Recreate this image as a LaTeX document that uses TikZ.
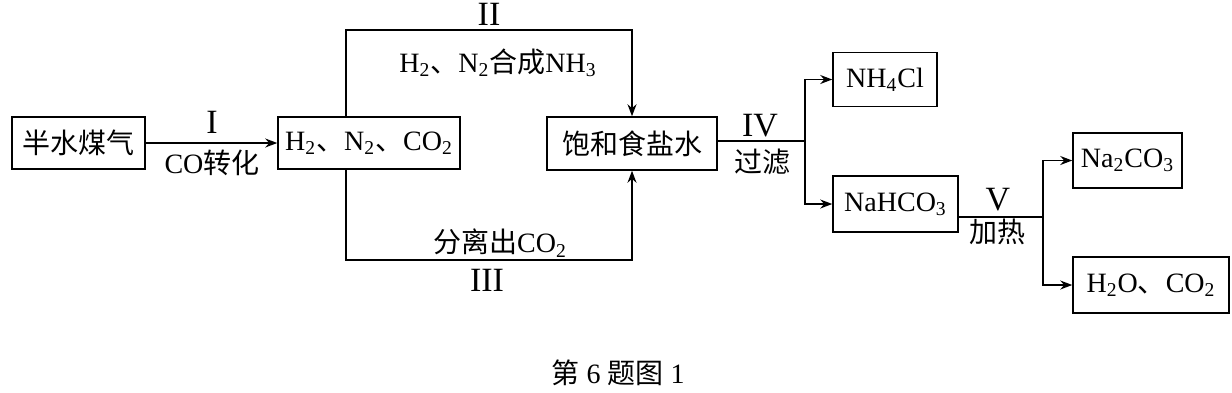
\documentclass[tikz,border=0pt]{standalone}
\usepackage{fontspec}
\setmainfont{Liberation Serif}
\newfontfamily\cjk{Noto Sans CJK SC}
\usetikzlibrary{arrows.meta}

\newcommand{\dun}{{\cjk 、}}
\newcommand{\ssub}[1]{\textsubscript{#1}}

\begin{document}
\begin{tikzpicture}[x=0.5pt, y=-0.5pt, line width=0.75pt,
    font=\fontsize{14}{16}\selectfont,
    box/.style={draw, inner sep=0pt},
    step label/.style={font=\fontsize{17}{19}\selectfont},
    flow/.style={-{Stealth[length=6pt, width=4.5pt]}}]
        \useasboundingbox (0,0) rectangle (1232,392);

        % boxes
        \node[box, minimum width=66.5pt, minimum height=26pt] (gas) at (78.5,143) {\cjk 半水煤气};
        \node[box, minimum width=91pt, minimum height=26pt] (mix) at (369,143) {H\ssub{2}\dun N\ssub{2}\dun CO\ssub{2}};
        \node[box, minimum width=85pt, minimum height=26.5pt] (salt) at (632,143.5) {\cjk 饱和食盐水};
        \node[box, minimum width=52pt, minimum height=27pt] (nh4cl) at (885,79.5) {NH\ssub{4}Cl};
        \node[box, minimum width=62.5pt, minimum height=28pt] (nahco3) at (895.5,204) {NaHCO\ssub{3}};
        \node[box, minimum width=54.5pt, minimum height=27.5pt] (na2co3) at (1127.5,160.5) {Na\ssub{2}CO\ssub{3}};
        \node[box, minimum width=78pt, minimum height=28pt] (gases) at (1151,285) {H\ssub{2}O\dun CO\ssub{2}};

        \coordinate (topL) at (346,30);
        \coordinate (botL) at (346,260);
        \coordinate (fork1) at (805,141);
        \coordinate (fork2) at (1043,217);

        % connectors
        \draw[flow] (gas) -- (mix);
        \draw[flow] (mix.north -| topL) -- (topL) -| (salt.north);
        \draw[flow] (mix.south -| botL) -- (botL) -| (salt.south);
        \draw (salt.east |- fork1) -- (fork1);
        \draw[flow] (fork1) |- (nh4cl.west);
        \draw[flow] (fork1) |- (nahco3.west);
        \draw (nahco3.east |- fork2) -- (fork2);
        \draw[flow] (fork2) |- (na2co3.west);
        \draw[flow] (fork2) |- (gases.west);

        % labels
        \node[step label] (l1) at (212,122) {I};
        \node (l1b) at (212,163) {CO{\cjk 转化}};
        \node[step label] (l2) at (489,14) {II};
        \node (l2b) at (498,63) {H\ssub{2}\dun N\ssub{2}{\cjk 合成}NH\ssub{3}};
        \node (l3b) at (500,243) {{\cjk 分离出}CO\ssub{2}};
        \node[step label] (l3) at (487,280) {III};
        \node[step label] (l4) at (760,126) {IV};
        \node (l4b) at (762,162) {\cjk 过滤};
        \node[step label] (l5) at (998,200) {V};
        \node (l5b) at (997,232) {\cjk 加热};

        \node (cap) at (618,373) {{\cjk 第} 6 {\cjk 题图} 1};
    \end{tikzpicture}
\end{document}
